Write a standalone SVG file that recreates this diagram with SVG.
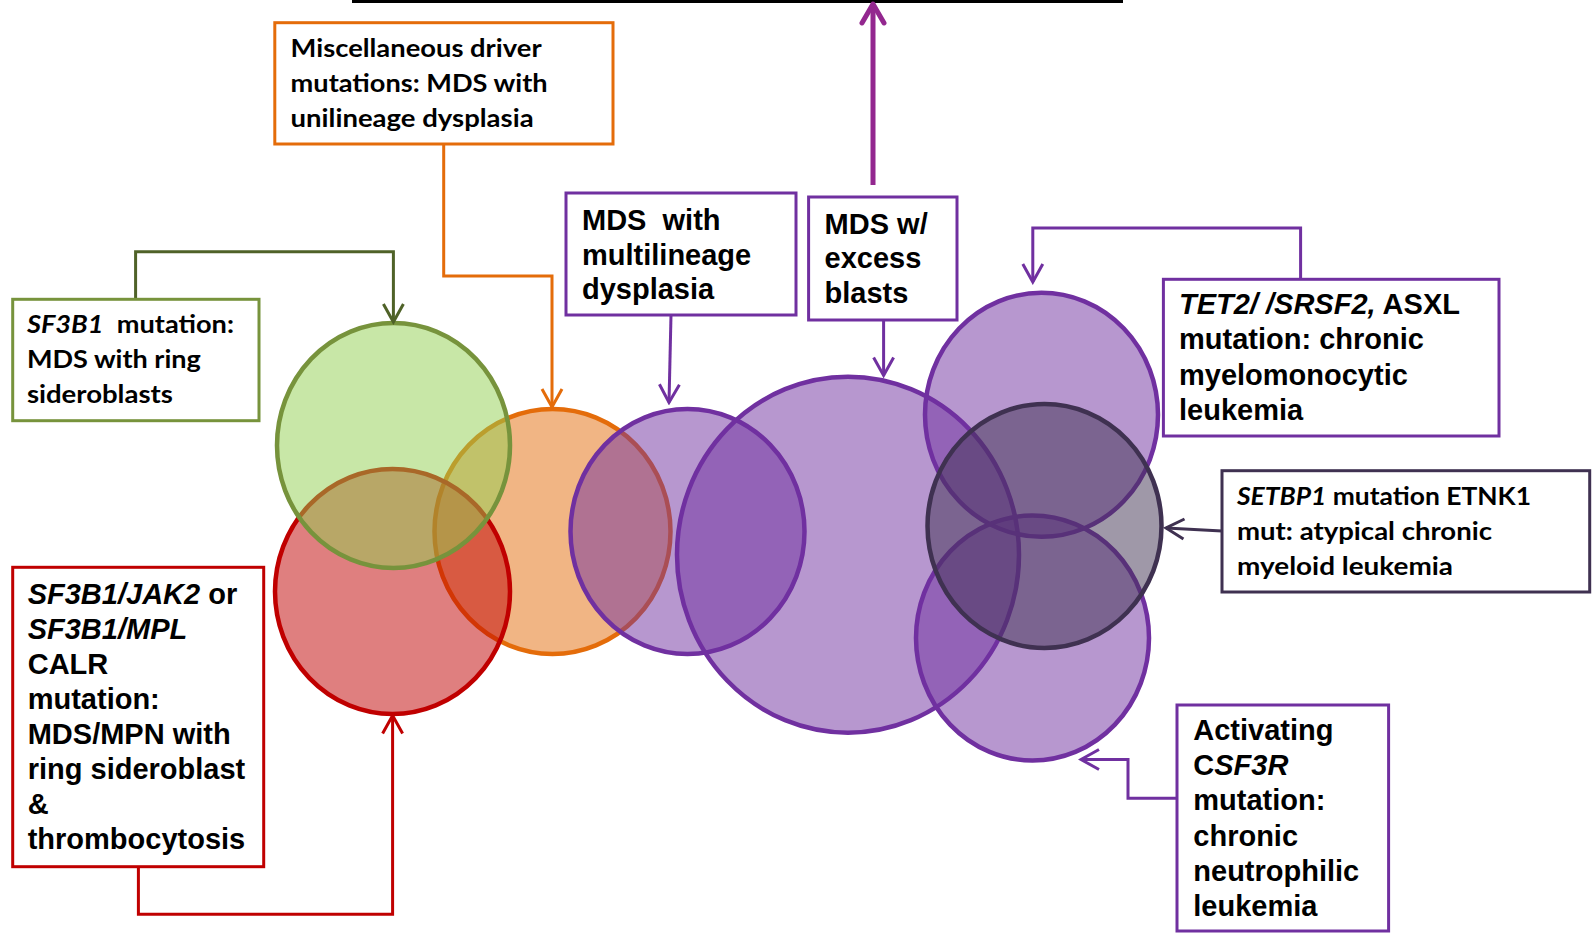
<svg xmlns="http://www.w3.org/2000/svg" width="1594" height="933" viewBox="0 0 1594 933">
<style>
.box{fill:#fff;stroke-width:3}
.c{stroke-width:4.5}
.cn{fill:none;stroke-width:3;stroke-linejoin:miter}
.ar{font-family:"Liberation Sans",Arial,sans-serif;font-weight:bold;font-size:29px;fill:#000}
.cal{font-family:Lato,"Open Sans",sans-serif;font-weight:bold;font-size:25.5px;fill:#000}
.i{font-style:italic}
</style>
<defs>
<marker id="a-green" markerUnits="userSpaceOnUse" viewBox="0 0 24 24" markerWidth="24" markerHeight="24" refX="21" refY="12" orient="auto"><path d="M3,2 L21,12 L3,22" fill="none" stroke="#4F6228" stroke-width="3"/></marker>
<marker id="a-orange" markerUnits="userSpaceOnUse" viewBox="0 0 24 24" markerWidth="24" markerHeight="24" refX="21" refY="12" orient="auto"><path d="M3,2 L21,12 L3,22" fill="none" stroke="#E46C0A" stroke-width="3"/></marker>
<marker id="a-red" markerUnits="userSpaceOnUse" viewBox="0 0 24 24" markerWidth="24" markerHeight="24" refX="21" refY="12" orient="auto"><path d="M3,2 L21,12 L3,22" fill="none" stroke="#C00000" stroke-width="3"/></marker>
<marker id="a-purple" markerUnits="userSpaceOnUse" viewBox="0 0 24 24" markerWidth="24" markerHeight="24" refX="21" refY="12" orient="auto"><path d="M3,2 L21,12 L3,22" fill="none" stroke="#7030A0" stroke-width="3"/></marker>
<marker id="a-dark" markerUnits="userSpaceOnUse" viewBox="0 0 24 24" markerWidth="24" markerHeight="24" refX="21" refY="12" orient="auto"><path d="M3,2 L21,12 L3,22" fill="none" stroke="#3F3151" stroke-width="3"/></marker>
<marker id="a-mag" markerUnits="userSpaceOnUse" viewBox="0 0 28 28" markerWidth="28" markerHeight="28" refX="23" refY="14" orient="auto"><path d="M4,3 L23,14 L4,25" fill="none" stroke="#93278F" stroke-width="5" stroke-linecap="round" stroke-linejoin="round"/></marker>
</defs>
<rect x="0" y="0" width="1594" height="933" fill="#fff"/>
<rect id="top-bar" x="352" y="0" width="771" height="3" fill="#000"/>

<g id="venn">
  <ellipse id="circle-orange" class="c" cx="552.5" cy="531.5" rx="118" ry="122.5" fill="#E46C0A" fill-opacity="0.5" stroke="#E46C0A"/>
  <ellipse id="circle-red" class="c" cx="392.5" cy="591.5" rx="117.5" ry="122.5" fill="#C00000" fill-opacity="0.5" stroke="#C00000"/>
  <ellipse id="circle-green" class="c" cx="393.5" cy="445.5" rx="116.5" ry="122.5" fill="#92D050" fill-opacity="0.5" stroke="#77933C"/>
  <ellipse id="circle-multilineage" class="c" cx="687.5" cy="531.5" rx="117" ry="122.5" fill="#7030A0" fill-opacity="0.5" stroke="#7030A0"/>
  <ellipse id="circle-excess" class="c" cx="848" cy="554.7" rx="171" ry="178" fill="#7030A0" fill-opacity="0.5" stroke="#7030A0"/>
  <ellipse id="circle-cmml" class="c" cx="1041.5" cy="414.8" rx="116.5" ry="122" fill="#7030A0" fill-opacity="0.5" stroke="#7030A0"/>
  <ellipse id="circle-cnl" class="c" cx="1032.5" cy="638" rx="116.5" ry="122.5" fill="#7030A0" fill-opacity="0.5" stroke="#7030A0"/>
  <ellipse id="circle-acml" class="c" cx="1044.5" cy="526" rx="117" ry="122" fill="#3F3151" fill-opacity="0.5" stroke="#3F3151"/>
</g>

<g id="connectors">
  <path d="M135.6,299 V251.7 H393.4 V322" class="cn" stroke="#4F6228" marker-end="url(#a-green)"/>
  <path d="M443.7,144 V276 H552 V407" class="cn" stroke="#E46C0A" marker-end="url(#a-orange)"/>
  <path d="M138.4,866.7 V914.3 H392.6 V715.5" class="cn" stroke="#C00000" marker-end="url(#a-red)"/>
  <path d="M671,315 L669,402.5" class="cn" stroke="#7030A0" marker-end="url(#a-purple)"/>
  <path d="M883.6,320 V375.5" class="cn" stroke="#7030A0" marker-end="url(#a-purple)"/>
  <path d="M1300.6,279 V228 H1032.8 V282" class="cn" stroke="#7030A0" marker-end="url(#a-purple)"/>
  <path d="M1222,531 L1166,528" class="cn" stroke="#3F3151" marker-end="url(#a-dark)"/>
  <path d="M1177,798.3 H1128 V759.5 H1081" class="cn" stroke="#7030A0" marker-end="url(#a-purple)"/>
  <path d="M873,185 V4" fill="none" stroke="#93278F" stroke-width="5" marker-end="url(#a-mag)"/>
</g>

<g id="node-misc">
  <rect class="box" x="274.8" y="22.7" width="338.2" height="121.3" stroke="#E46C0A"/>
  <text class="cal" x="290.6" y="57.3" textLength="251" lengthAdjust="spacingAndGlyphs">Miscellaneous driver</text>
  <text class="cal" x="290.6" y="91.7" textLength="257" lengthAdjust="spacingAndGlyphs">mutations: MDS with</text>
  <text class="cal" x="290.6" y="127" textLength="243" lengthAdjust="spacingAndGlyphs">unilineage dysplasia</text>
</g>

<g id="node-sf3b1">
  <rect class="box" x="12.7" y="299.3" width="246.3" height="121.4" stroke="#77933C"/>
  <text class="cal" x="26.9" y="333.3" textLength="207" lengthAdjust="spacingAndGlyphs" xml:space="preserve"><tspan class="i">SF3B1</tspan>  mutation:</text>
  <text class="cal" x="26.9" y="368.3" textLength="174" lengthAdjust="spacingAndGlyphs">MDS with ring</text>
  <text class="cal" x="26.9" y="403.3" textLength="146" lengthAdjust="spacingAndGlyphs">sideroblasts</text>
</g>

<g id="node-multilineage">
  <rect class="box" x="566" y="193" width="230" height="122" stroke="#7030A0"/>
  <text class="ar" x="582" y="230" xml:space="preserve">MDS  with</text>
  <text class="ar" x="582" y="265">multilineage</text>
  <text class="ar" x="582" y="299">dysplasia</text>
</g>

<g id="node-excess">
  <rect class="box" x="808.6" y="197" width="148.4" height="123" stroke="#7030A0"/>
  <text class="ar" x="824.6" y="233.5">MDS w/</text>
  <text class="ar" x="824.6" y="268">excess</text>
  <text class="ar" x="824.6" y="303">blasts</text>
</g>

<g id="node-cmml">
  <rect class="box" x="1163.4" y="279.3" width="335.6" height="156.7" stroke="#7030A0"/>
  <text class="ar" x="1179" y="314"><tspan class="i">TET2/ /SRSF2,</tspan> ASXL</text>
  <text class="ar" x="1179" y="349.3" textLength="245" lengthAdjust="spacingAndGlyphs">mutation: chronic</text>
  <text class="ar" x="1179" y="384.6">myelomonocytic</text>
  <text class="ar" x="1179" y="420">leukemia</text>
</g>

<g id="node-acml">
  <rect class="box" x="1222" y="470.7" width="367.7" height="121.3" stroke="#3F3151"/>
  <text class="cal" x="1237" y="505" textLength="294" lengthAdjust="spacingAndGlyphs"><tspan class="i">SETBP1</tspan> mutation ETNK1</text>
  <text class="cal" x="1237" y="540" textLength="255" lengthAdjust="spacingAndGlyphs">mut: atypical chronic</text>
  <text class="cal" x="1237" y="575" textLength="216" lengthAdjust="spacingAndGlyphs">myeloid leukemia</text>
</g>

<g id="node-mdsmpn">
  <rect class="box" x="12.7" y="567.3" width="251" height="299.4" stroke="#C00000"/>
  <text class="ar" x="27.7" y="603.5"><tspan class="i">SF3B1/JAK2</tspan> or</text>
  <text class="ar i" x="27.7" y="638.5">SF3B1/MPL</text>
  <text class="ar" x="27.7" y="673.5">CALR</text>
  <text class="ar" x="27.7" y="708.5">mutation:</text>
  <text class="ar" x="27.7" y="743.5">MDS/MPN with</text>
  <text class="ar" x="27.7" y="778.5">ring sideroblast</text>
  <text class="ar" x="27.7" y="813.5">&amp;</text>
  <text class="ar" x="27.7" y="848.5">thrombocytosis</text>
</g>

<g id="node-cnl">
  <rect class="box" x="1177" y="705" width="211.6" height="226" stroke="#7030A0"/>
  <text class="ar" x="1193.3" y="740">Activating</text>
  <text class="ar" x="1193.3" y="775.2">C<tspan class="i">SF3R</tspan></text>
  <text class="ar" x="1193.3" y="810.4">mutation:</text>
  <text class="ar" x="1193.3" y="845.6">chronic</text>
  <text class="ar" x="1193.3" y="880.8">neutrophilic</text>
  <text class="ar" x="1193.3" y="916">leukemia</text>
</g>
</svg>
